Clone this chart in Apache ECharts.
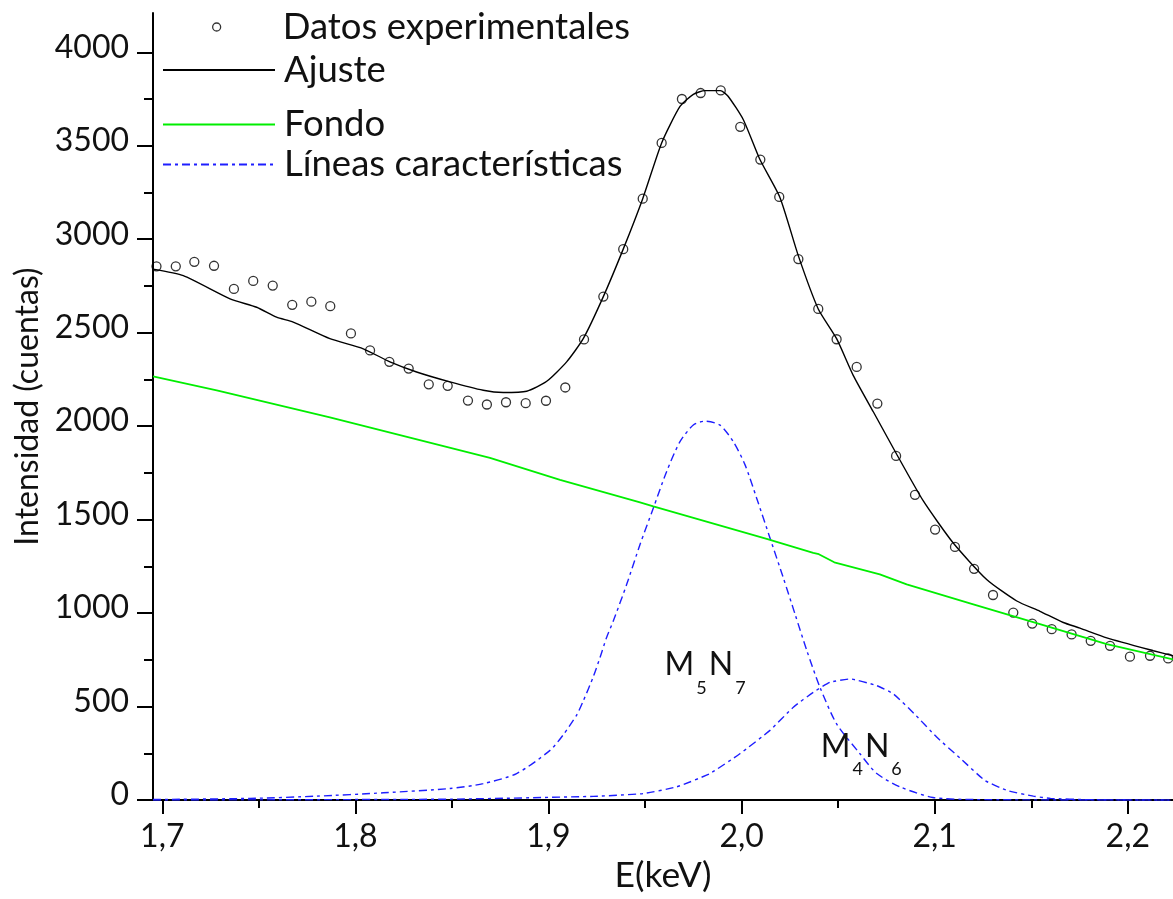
<!DOCTYPE html>
<html>
<head>
<meta charset="utf-8">
<script src="https://cdn.jsdelivr.net/npm/echarts@6/dist/echarts.min.js"></script>
<style>
  html, body { margin: 0; padding: 0; background: #fff; }
  #chart { width: 1173px; height: 899px; }
</style>
</head>
<body>
<div id="chart"></div>
<script>
// ---- Axis ticks ----
const xMajorTicks = [1.7, 1.8, 1.9, 2.0, 2.1, 2.2];
const xMinorTicks = [1.75, 1.85, 1.95, 2.05, 2.15];
const yMajorTicks = [0, 500, 1000, 1500, 2000, 2500, 3000, 3500, 4000];
const yMinorTicks = [250, 750, 1250, 1750, 2250, 2750, 3250, 3750];

// ---- Experimental spectrum (E in keV, counts) ----
const expE = [1.697, 1.707, 1.7166, 1.7268, 1.7371, 1.7471, 1.7572, 1.7673, 1.7772, 1.787,
  1.7977, 1.8076, 1.8176, 1.8276, 1.838, 1.8478, 1.8583, 1.8681, 1.878, 1.8882,
  1.8987, 1.9087, 1.9184, 1.9284, 1.9387, 1.9488, 1.9586, 1.9691, 1.9788, 1.9892,
  1.9993, 2.0097, 2.0195, 2.0294, 2.0397, 2.0492, 2.0596, 2.0703, 2.08, 2.0898,
  2.1002, 2.1105, 2.1204, 2.1302, 2.1407, 2.1505, 2.1606, 2.1709, 2.1808, 2.1908,
  2.2011, 2.2115, 2.2209];
const expCounts = [2855, 2855, 2879, 2858, 2734, 2777, 2752, 2649, 2666, 2642,
  2496, 2405, 2344, 2308, 2224, 2216, 2137, 2116, 2128, 2123,
  2136, 2207, 2464, 2693, 2947, 3217, 3515, 3750, 3782, 3796,
  3601, 3426, 3226, 2894, 2627, 2465, 2317, 2121, 1841, 1633,
  1447, 1354, 1237, 1097, 1003, 944, 914, 886, 852, 825,
  767, 772, 758];

// ---- Fitted total ----
const fitE = [1.6952, 1.7109, 1.7351, 1.7489, 1.7592, 1.7678, 1.7868, 1.8041, 1.8179, 1.8317,
  1.849, 1.8662, 1.8766, 1.8887, 1.8991, 1.9094, 1.918, 1.9284, 1.9387, 1.9488,
  1.9586, 1.9681, 1.975, 1.981, 1.989, 1.993, 2.0009, 2.0095, 2.0199, 2.0294,
  2.0397, 2.0492, 2.0578, 2.0682, 2.0803, 2.0941, 2.1096, 2.1269, 2.1425, 2.1545,
  2.1666, 2.1752, 2.1891, 2.2132, 2.2234];
const fitCounts = [2840, 2805, 2681, 2636, 2583, 2557, 2468, 2414, 2344, 2290,
  2237, 2192, 2180, 2187, 2240, 2344, 2468, 2693, 2947, 3217,
  3515, 3710, 3775, 3795, 3795, 3765, 3639, 3426, 3222, 2911,
  2627, 2468, 2272, 2077, 1850, 1600, 1375, 1180, 1065, 1010,
  950, 920, 868, 799, 772];

// ---- Background ----
const bgE = [1.6952, 1.7282, 1.7868, 1.8697, 1.906, 1.9474, 1.9543, 2.013, 2.0371, 2.04,
  2.048, 2.0716, 2.0855, 2.12, 2.1545, 2.1891, 2.2234];
const bgCounts = [2266, 2192, 2047, 1830, 1713, 1593, 1571, 1397, 1322, 1315,
  1272, 1207, 1154, 1047, 941, 834, 753];

// ---- Characteristic lines ----
const m5n7E = [1.6952, 1.7454, 1.78, 1.8145, 1.849, 1.8662, 1.8835, 1.9008, 1.9077, 1.9146,
  1.918, 1.9232, 1.9267, 1.9301, 1.9336, 1.9405, 1.9474, 1.9543, 1.9612, 1.9681,
  1.975, 1.981, 1.9888, 1.9957, 2.0018, 2.0078, 2.0147, 2.0216, 2.0277, 2.0338,
  2.0406, 2.0492, 2.0613, 2.07, 2.082, 2.0991, 2.12, 2.2234];
const m5n7Counts = [3, 9, 21, 39, 62, 88, 142, 266, 350, 455,
  530, 660, 763, 870, 959, 1154, 1367, 1562, 1758, 1917,
  2006, 2027, 2006, 1917, 1793, 1615, 1402, 1189, 994, 799,
  603, 408, 248, 142, 71, 14, 3, 0];

const m4n6E = [1.6952, 1.85, 1.9232, 1.9491, 1.9664, 1.9836, 1.9991, 2.0147, 2.0268, 2.0372,
  2.0458, 2.0562, 2.07, 2.0786, 2.0898, 2.101, 2.1131, 2.126, 2.138, 2.1511,
  2.16, 2.18, 2.2234];
const m4n6Counts = [0, 5, 20, 35, 71, 142, 248, 373, 497, 577,
  630, 648, 612, 568, 458, 337, 225, 105, 50, 21,
  9, 2, 0];

// Line labels: anchor [E, counts] and subscripts
const lineLabels = [
  { coord: [1.9816, 680], main: ['M', 'N'], sub: ['5', '7'] },
  { coord: [2.0625, 245], main: ['M', 'N'], sub: ['4', '6'] }
];

const X_MIN = 1.6952, X_MAX = 2.2234;
const Y_MIN = 0, Y_MAX = 4210;

const FONT = 'Lato';
const INK = '#111';
const FS_TICK = 32;
const FS_LEGEND = 36.5;
const FS_XNAME = 35.5;
const FS_YNAME = 32;

const zip = (xs, ys) => xs.map((x, i) => [x, ys[i]]);

const LBL_EXP = 'Datos experimentales';
const LBL_FIT = 'Ajuste';
const LBL_BG = 'Fondo';
const LBL_LINES = 'Líneas características';

const chart = echarts.init(document.getElementById('chart'), null, { renderer: 'canvas' });

const tickStyle = { color: '#000', width: 2 };
const hiddenSymbol = { color: 'rgba(0,0,0,0)', borderColor: 'rgba(0,0,0,0)', borderWidth: 0 };

function legendAt(name, iconY, extra) {
  const lh = 40;
  return Object.assign({
    data: [name],
    orient: 'horizontal',
    left: 162,
    top: iconY - lh / 2,
    padding: 0,
    itemWidth: 112,
    itemHeight: 14,
    selectedMode: false,
    itemStyle: hiddenSymbol,
    textStyle: { fontFamily: FONT, fontSize: FS_LEGEND, color: INK, lineHeight: lh, padding: [0, 0, 0, 4] }
  }, extra || {});
}

function richLabel(l) {
  return '{m|' + l.main[0] + '}{s|' + l.sub[0] + '}{m|' + l.main[1] + '}{s|' + l.sub[1] + '}';
}

const labelRich = {
  m: { fontFamily: FONT, fontSize: FS_TICK, color: INK, lineHeight: 40, verticalAlign: 'top' },
  s: { fontFamily: FONT, fontSize: 18, color: INK, lineHeight: 48, verticalAlign: 'bottom', padding: [0, 2, 0, 2] }
};

const BLUE = '#1e1eff';
const blueLine = { color: BLUE, width: 1.4, type: [8, 4, 3, 4] };

const option = {
  backgroundColor: '#fff',
  animation: false,
  textStyle: { fontFamily: FONT },
  grid: { left: 153, right: 0, top: 13, bottom: 96, containLabel: false },
  legend: [
    legendAt(LBL_EXP, 27, {
      data: [{ name: LBL_EXP, icon: 'circle', itemStyle: { color: 'rgba(0,0,0,0)', borderColor: '#000', borderWidth: 1.3 } }],
      left: 212,
      itemWidth: 8,
      itemHeight: 8,
      itemStyle: {},
      textStyle: { fontFamily: FONT, fontSize: FS_LEGEND, color: INK, lineHeight: 40, padding: [0, 0, 0, 57] }
    }),
    legendAt(LBL_FIT, 70),
    legendAt(LBL_BG, 124.5),
    legendAt(LBL_LINES, 164.5)
  ],
  xAxis: [
    {
      type: 'value', min: X_MIN, max: X_MAX, position: 'bottom',
      name: 'E(keV)', nameLocation: 'middle', nameGap: 57,
      nameTextStyle: { fontFamily: FONT, fontSize: FS_XNAME, color: INK },
      axisLine: { show: true, onZero: false, lineStyle: { color: '#000', width: 2 } },
      axisTick: { show: true, customValues: xMajorTicks, length: 14, lineStyle: tickStyle },
      axisLabel: {
        customValues: xMajorTicks, margin: 21,
        fontFamily: FONT, fontSize: FS_TICK, color: INK,
        formatter: v => v.toFixed(1).replace('.', ',')
      },
      splitLine: { show: false }
    },
    {
      type: 'value', min: X_MIN, max: X_MAX, position: 'bottom',
      axisLine: { show: false },
      axisTick: { show: true, customValues: xMinorTicks, length: 8, lineStyle: tickStyle },
      axisLabel: { show: false },
      splitLine: { show: false }
    }
  ],
  yAxis: [
    {
      type: 'value', min: Y_MIN, max: Y_MAX, position: 'left',
      name: 'Intensidad (cuentas)', nameLocation: 'middle', nameGap: 106, nameRotate: 90,
      nameTextStyle: { fontFamily: FONT, fontSize: FS_YNAME, color: INK },
      axisLine: { show: true, onZero: false, lineStyle: { color: '#000', width: 2 } },
      axisTick: { show: true, customValues: yMajorTicks, length: 16, lineStyle: tickStyle },
      axisLabel: {
        customValues: yMajorTicks, margin: 24,
        fontFamily: FONT, fontSize: FS_TICK, color: INK,
        verticalAlign: 'bottom', lineHeight: 10,
        formatter: v => String(v)
      },
      splitLine: { show: false }
    },
    {
      type: 'value', min: Y_MIN, max: Y_MAX, position: 'left',
      axisLine: { show: false },
      axisTick: { show: true, customValues: yMinorTicks, length: 9, lineStyle: tickStyle },
      axisLabel: { show: false },
      splitLine: { show: false }
    }
  ],
  series: [
    {
      name: LBL_LINES, type: 'line', data: zip(m5n7E, m5n7Counts),
      symbol: 'none', showSymbol: false, smooth: 0.25, lineStyle: blueLine, itemStyle: { color: BLUE },
      silent: true,
      markPoint: {
        symbol: 'circle', symbolSize: 0, silent: true,
        label: { show: true, position: 'inside', formatter: richLabel(lineLabels[0]), rich: labelRich },
        data: [{ coord: lineLabels[0].coord }]
      }
    },
    {
      name: LBL_LINES, type: 'line', data: zip(m4n6E, m4n6Counts),
      symbol: 'none', showSymbol: false, smooth: 0.15, lineStyle: blueLine, itemStyle: { color: BLUE },
      silent: true,
      markPoint: {
        symbol: 'circle', symbolSize: 0, silent: true,
        label: { show: true, position: 'inside', formatter: richLabel(lineLabels[1]), rich: labelRich },
        data: [{ coord: lineLabels[1].coord }]
      }
    },
    {
      name: LBL_BG, type: 'line', data: zip(bgE, bgCounts),
      symbol: 'none', showSymbol: false, lineStyle: { color: '#00ee00', width: 1.8 }, itemStyle: { color: '#00ee00' },
      silent: true
    },
    {
      name: LBL_FIT, type: 'line', data: zip(fitE, fitCounts),
      symbol: 'none', showSymbol: false, smooth: 0.2, lineStyle: { color: '#000', width: 1.4 }, itemStyle: { color: '#000' },
      silent: true
    },
    {
      name: LBL_EXP, type: 'scatter', data: zip(expE, expCounts),
      symbol: 'circle', symbolSize: 9,
      itemStyle: { color: 'rgba(0,0,0,0)', borderColor: '#000', borderWidth: 1.3 },
      silent: true
    }
  ]
};

chart.setOption(option);
</script>
</body>
</html>
